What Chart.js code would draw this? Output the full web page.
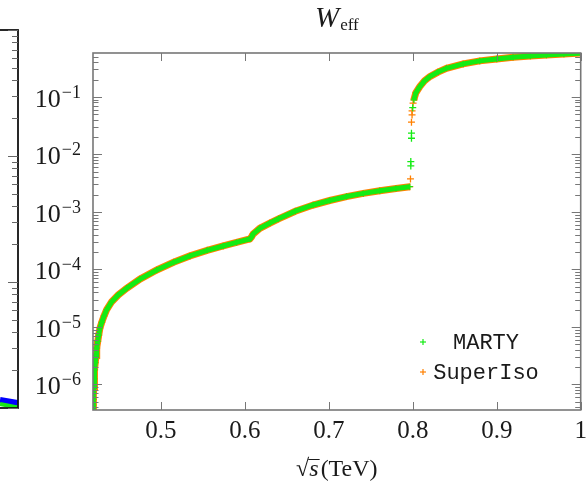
<!DOCTYPE html>
<html>
<head>
<meta charset="utf-8">
<script src="https://cdn.jsdelivr.net/npm/chart.js@4/dist/chart.umd.min.js"></script>
<style>
html, body { margin: 0; padding: 0; background: #fff; overflow: hidden; }
#wrap { position: relative; width: 586px; height: 481px; }
#left { position: absolute; left: -382px; top: 0; }
#main { position: absolute; left: 0; top: 0; }
</style>
</head>
<body>
<div id="wrap">
<canvas id="left" width="402" height="481"></canvas>
<canvas id="main" width="586" height="481"></canvas>
</div>
<script>
// Lower branch (below the threshold at 0.8 TeV)
const lowX = [0.4190, 0.4192, 0.4194, 0.4198, 0.4202, 0.4205, 0.4210, 0.4217, 0.4226, 0.4234,
              0.4246, 0.4258, 0.4273, 0.4294, 0.4321, 0.4353, 0.4413, 0.4491, 0.4591, 0.4750,
              0.4950, 0.5150, 0.5345, 0.5550, 0.5741, 0.5900, 0.6059, 0.6080, 0.6098, 0.6178,
              0.6297, 0.6400, 0.6600, 0.6813, 0.7010, 0.7210, 0.7410, 0.7607, 0.7800, 0.7964];
const martyLowY = [3.7e-7, 4.4e-7, 5.5e-7, 7.0e-7, 9.2e-7, 1.25e-6, 1.8e-6, 2.4e-6, 3.2e-6, 4.3e-6,
                   5.6e-6, 7.2e-6, 9.6e-6, 1.2e-5, 1.55e-5, 2.0e-5, 2.75e-5, 3.6e-5, 4.7e-5, 6.8e-5,
                   9.8e-5, 1.33e-4, 1.72e-4, 2.15e-4, 2.56e-4, 2.95e-4, 3.39e-4, 3.7e-4, 4.14e-4, 5.2e-4,
                   6.4e-4, 7.6e-4, 1.03e-3, 1.32e-3, 1.58e-3, 1.85e-3, 2.1e-3, 2.34e-3, 2.55e-3, 2.75e-3];
const superIsoLowY = [3.7e-7, 4.4e-7, 5.5e-7, 7.0e-7, 9.2e-7, 1.25e-6, 1.8e-6, 2.4e-6, 3.2e-6, 4.3e-6,
                      5.6e-6, 7.2e-6, 9.6e-6, 1.2e-5, 1.55e-5, 2.0e-5, 2.75e-5, 3.6e-5, 4.7e-5, 6.8e-5,
                      9.8e-5, 1.33e-4, 1.72e-4, 2.15e-4, 2.56e-4, 2.95e-4, 3.39e-4, 3.7e-4, 4.14e-4, 5.2e-4,
                      6.4e-4, 7.6e-4, 1.03e-3, 1.32e-3, 1.58e-3, 1.85e-3, 2.1e-3, 2.34e-3, 2.55e-3, 2.75e-3];

// Scattered points on the jump
const martyJumpX = [0.7976, 0.7976, 0.7984, 0.7984, 0.7999];
const martyJumpY = [6.3e-3, 7.5e-3, 0.0191, 0.0234, 0.065];
const superIsoJumpX = [0.7972, 0.7984, 0.7991, 0.7991, 0.8003];
const superIsoJumpY = [3.75e-3, 0.0363, 0.0487, 0.0571, 0.0777];

// Upper branch
const highX = [0.8012, 0.8036, 0.8083, 0.8140, 0.8202, 0.8300, 0.8401, 0.8600, 0.8798, 0.9000,
               0.9194, 0.9400, 0.9592, 0.9800, 1.0000];
const martyHighY = [0.0887, 0.118, 0.151, 0.19, 0.225, 0.27, 0.315, 0.375, 0.423, 0.458,
                    0.49, 0.515, 0.537, 0.557, 0.577];
const superIsoHighY = [0.0887, 0.118, 0.151, 0.19, 0.225, 0.27, 0.315, 0.375, 0.423, 0.458,
                       0.49, 0.515, 0.537, 0.557, 0.577];

const xTicks = [0.5, 0.6, 0.7, 0.8, 0.9, 1];
const xTickLabels = ['0.5', '0.6', '0.7', '0.8', '0.9', '1'];
const yDecades = [-6, -5, -4, -3, -2, -1];
const legendLabels = ['MARTY', 'SuperIso'];

// Neighbouring panel (only its right edge is visible)
const leftX = [0.955, 1.0];
const leftBlueY = [1.157, 1.096];
const leftGreenY = [1.076, 1.009];

const GREEN = 'rgb(20,235,20)';
const ORANGE = 'rgb(255,128,0)';
const SERIF = '"Liberation Serif", "DejaVu Serif", serif';

function pts(xs, ys) {
    return xs.map((x, i) => ({ x: x, y: ys[i] }));
}
function curve(low, high) {
    return pts(lowX, low).concat([{ x: 0.799, y: null }], pts(highX, high));
}

function logTicks(scale, from, to) {
    const out = [];
    for (let d = from; d <= to; d++) {
        for (let k = 1; k <= 9; k++) {
            const v = k * Math.pow(10, d);
            if (v >= scale.min && v <= scale.max) out.push({ v: v, major: k === 1 });
        }
    }
    return out;
}

function seg(ctx, x1, y1, x2, y2) {
    ctx.beginPath();
    ctx.moveTo(x1, y1);
    ctx.lineTo(x2, y2);
    ctx.stroke();
}

const axesPlugin = {
    id: 'axesPlugin',
    afterDraw(chart) {
        const { ctx, chartArea: a, scales: { x, y } } = chart;
        ctx.save();
        ctx.strokeStyle = '#777';
        ctx.lineWidth = 1.6;
        ctx.strokeRect(a.left, a.top, a.right - a.left, a.bottom - a.top);

        ctx.lineWidth = 1;
        // x ticks, bottom and top
        xTicks.forEach(t => {
            const px = Math.round(x.getPixelForValue(t)) + 0.5;
            seg(ctx, px, a.bottom, px, a.bottom - 8);
            seg(ctx, px, a.top, px, a.top + 8);
        });
        // y ticks, left and right
        logTicks(y, -7, 0).forEach(t => {
            const py = Math.round(y.getPixelForValue(t.v)) + 0.5;
            const len = t.major ? 9 : 5.5;
            seg(ctx, a.left, py, a.left + len, py);
            seg(ctx, a.right, py, a.right - len, py);
        });

        ctx.fillStyle = '#1a1a1a';
        // x tick labels
        ctx.font = '25px ' + SERIF;
        ctx.textAlign = 'center';
        ctx.textBaseline = 'alphabetic';
        xTicks.forEach((t, i) => {
            ctx.fillText(xTickLabels[i], x.getPixelForValue(t), 438);
        });

        // y tick labels 10^e
        yDecades.forEach(e => {
            const py = y.getPixelForValue(Math.pow(10, e));
            const sup = '\u2212' + Math.abs(e);
            ctx.textAlign = 'right';
            ctx.font = '18px ' + SERIF;
            const sw = ctx.measureText(sup).width;
            ctx.fillText(sup, 81, py + 1);
            ctx.font = '26px ' + SERIF;
            ctx.fillText('10', 81 - sw - 1, py + 10);
        });

        // title W_eff
        const cx = (a.left + a.right) / 2;
        ctx.textAlign = 'left';
        ctx.font = 'italic 29px ' + SERIF;
        const ww = ctx.measureText('W').width;
        ctx.font = '17px ' + SERIF;
        const ew = ctx.measureText('eff').width;
        const tx = cx - (ww + ew + 1) / 2;
        ctx.font = 'italic 29px ' + SERIF;
        ctx.fillText('W', tx, 27);
        ctx.font = '17px ' + SERIF;
        ctx.fillText('eff', tx + ww + 1, 30);

        // x axis label sqrt(s)(TeV)
        ctx.font = '24px ' + SERIF;
        const rw = ctx.measureText('\u221A').width;
        const tw = ctx.measureText('(TeV)').width;
        ctx.font = 'italic 24px ' + SERIF;
        const sw2 = ctx.measureText('s').width;
        const lx = cx - (rw + sw2 + 2 + tw) / 2;
        ctx.font = '24px ' + SERIF;
        ctx.fillText('\u221A', lx, 476);
        ctx.font = 'italic 24px ' + SERIF;
        ctx.fillText('s', lx + rw, 476);
        ctx.strokeStyle = '#1a1a1a';
        ctx.lineWidth = 1;
        seg(ctx, lx + rw - 1, 459.5, lx + rw + sw2 + 1, 459.5);
        ctx.font = '24px ' + SERIF;
        ctx.fillText('(TeV)', lx + rw + sw2 + 2, 476);

        // legend
        const colors = [GREEN, ORANGE];
        ctx.font = '22px "Liberation Mono", "DejaVu Sans Mono", monospace';
        ctx.textAlign = 'center';
        legendLabels.forEach((lab, i) => {
            const my = 342 + i * 30;
            ctx.strokeStyle = colors[i];
            ctx.lineWidth = 1.2;
            seg(ctx, 420, my, 426, my);
            seg(ctx, 423, my - 3, 423, my + 3);
            ctx.fillStyle = '#1a1a1a';
            ctx.fillText(lab, 486, my + 7);
        });
        ctx.restore();
    }
};

new Chart(document.getElementById('main'), {
    type: 'scatter',
    data: {
        datasets: [
            {
                label: legendLabels[0],
                data: curve(martyLowY, martyHighY),
                showLine: true,
                borderColor: GREEN,
                borderWidth: 5,
                backgroundColor: GREEN,
                pointStyle: 'cross',
                pointRadius: 3,
                pointBorderWidth: 1.2,
                pointBorderColor: GREEN,
                order: 0
            },
            {
                label: legendLabels[0] + ' jump',
                data: pts(martyJumpX, martyJumpY),
                showLine: false,
                pointStyle: 'cross',
                pointRadius: 3.5,
                pointBorderWidth: 1.3,
                pointBorderColor: GREEN,
                order: 0
            },
            {
                label: legendLabels[1],
                data: curve(superIsoLowY, superIsoHighY),
                showLine: true,
                borderColor: ORANGE,
                borderWidth: 7,
                backgroundColor: ORANGE,
                pointStyle: 'cross',
                pointRadius: 3.5,
                pointBorderWidth: 1.2,
                pointBorderColor: ORANGE,
                order: 1
            },
            {
                label: legendLabels[1] + ' jump',
                data: pts(superIsoJumpX, superIsoJumpY),
                showLine: false,
                pointStyle: 'cross',
                pointRadius: 3.5,
                pointBorderWidth: 1.3,
                pointBorderColor: ORANGE,
                order: 1
            }
        ]
    },
    options: {
        responsive: false,
        animation: false,
        events: [],
        layout: { padding: { left: 93, right: 5, top: 53, bottom: 71 } },
        plugins: { legend: { display: false }, tooltip: { enabled: false } },
        scales: {
            x: { type: 'linear', min: 0.419, max: 1, display: false },
            y: { type: 'logarithmic', min: 3.6e-7, max: 0.58, display: false }
        }
    },
    plugins: [axesPlugin]
});

// neighbouring panel frame
const leftFrame = {
    id: 'leftFrame',
    afterDraw(chart) {
        const { ctx, chartArea: a, scales: { y } } = chart;
        ctx.save();
        ctx.strokeStyle = '#111';
        ctx.lineWidth = 1.8;
        ctx.strokeRect(a.left, a.top, a.right - a.left, a.bottom - a.top);
        ctx.lineWidth = 1;
        ctx.strokeStyle = '#666';
        logTicks(y, 0, 3).forEach(t => {
            const py = Math.round(y.getPixelForValue(t.v)) + 0.5;
            seg(ctx, a.right, py, a.right - (t.major ? 10 : 6), py);
        });
        ctx.restore();
    }
};

new Chart(document.getElementById('left'), {
    type: 'line',
    data: {
        datasets: [
            { data: pts(leftX, leftBlueY), borderColor: 'rgb(0,0,255)', borderWidth: 6, pointRadius: 0, order: 1 },
            { data: pts(leftX, leftGreenY), borderColor: GREEN, borderWidth: 4, pointRadius: 0, order: 0 }
        ]
    },
    options: {
        responsive: false,
        animation: false,
        events: [],
        layout: { padding: { left: 0, right: 2, top: 30, bottom: 73 } },
        plugins: { legend: { display: false }, tooltip: { enabled: false } },
        scales: {
            x: { type: 'linear', min: 0, max: 1, display: false },
            y: { type: 'logarithmic', min: 1, max: 1000, display: false }
        }
    },
    plugins: [leftFrame]
});
</script>
</body>
</html>
